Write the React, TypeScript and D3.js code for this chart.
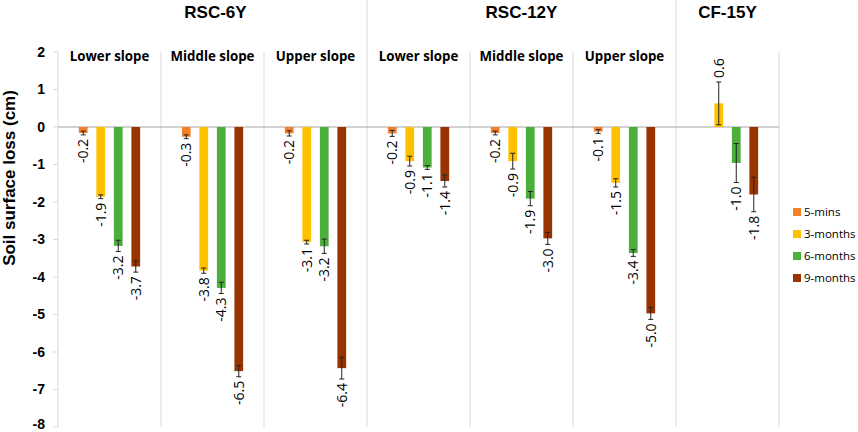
import React from "react";
import * as d3 from "d3";

const panels = ["RSC-6Y Lower", "RSC-6Y Middle", "RSC-6Y Upper", "RSC-12Y Lower", "RSC-12Y Middle", "RSC-12Y Upper", "CF-15Y"];
const panelLabels = ["Lower slope", "Middle slope", "Upper slope", "Lower slope", "Middle slope", "Upper slope", ""];
const groupNames = ["RSC-6Y", "RSC-12Y", "CF-15Y"];
const groupSpans = [[0, 2], [3, 5], [6, 6]];
const seriesNames = ["5-mins", "3-months", "6-months", "9-months"];
const seriesColors = ["#F4812A", "#FFC000", "#4CAF3C", "#993300"];

const fiveMins = [-0.16, -0.26, -0.17, -0.17, -0.16, -0.12, null];
const threeMonths = [-1.86, -3.83, -3.07, -0.91, -0.91, -1.49, 0.63];
const sixMonths = [-3.17, -4.29, -3.18, -1.08, -1.91, -3.36, -0.96];
const nineMonths = [-3.72, -6.51, -6.43, -1.44, -2.97, -4.97, -1.8];

const fiveMinsErr = [0.05, 0.05, 0.07, 0.08, 0.05, 0.05, null];
const threeMonthsErr = [0.05, 0.07, 0.05, 0.13, 0.21, 0.11, 0.57];
const sixMonthsErr = [0.15, 0.15, 0.19, 0.05, 0.19, 0.09, 0.52];
const nineMonthsErr = [0.15, 0.15, 0.29, 0.16, 0.16, 0.16, 0.46];

const yTicks = [2, 1, 0, -1, -2, -3, -4, -5, -6, -7, -8];

const seriesValues = [fiveMins, threeMonths, sixMonths, nineMonths];
const seriesErrs = [fiveMinsErr, threeMonthsErr, sixMonthsErr, nineMonthsErr];

const W = 858;
const H = 432;
const left = 58;
const right = 779;
const top = 52;
const bottom = 427;

export default function App() {
  const y = d3.scaleLinear().domain([-8, 2]).range([bottom, top]);
  const x = d3.scaleBand<number>().domain(d3.range(panels.length)).range([left, right]).padding(0);
  const xs = d3
    .scaleBand<number>()
    .domain(d3.range(seriesNames.length))
    .range([0, x.bandwidth()])
    .paddingInner(0.5)
    .paddingOuter(1.19);

  const grid = "#D9D9D9";
  const labelFont = "'Open Sans', 'Liberation Sans', sans-serif";

  return (
    <svg
      width={W}
      height={H}
      style={{ position: "absolute", left: 0, top: 0, display: "block", background: "#fff" }}
      fontFamily={labelFont}
    >
      {/* vertical separators */}
      <line x1={left} x2={left} y1={top} y2={bottom} stroke={grid} strokeWidth={1} />
      {d3.range(1, panels.length + 1).map((i) => {
        const xx = (x(i - 1) as number) + x.bandwidth();
        const isGroupEdge = i === 3 || i === 6;
        return (
          <line
            key={"sep" + i}
            x1={xx}
            x2={xx}
            y1={isGroupEdge ? 0 : top}
            y2={bottom}
            stroke={grid}
            strokeWidth={1}
          />
        );
      })}
      {/* y ticks */}
      {yTicks.map((t) => (
        <g key={"yt" + t}>
          <line x1={left - 5} x2={left} y1={y(t)} y2={y(t)} stroke={grid} />
          <text
            x={45}
            y={Math.min(y(t), 424)}
            dy="0.35em"
            textAnchor="end"
            fontFamily="'Liberation Sans', Arial, sans-serif"
            fontWeight="bold"
            fontSize={14}
            fill="#000"
          >
            {t}
          </text>
        </g>
      ))}
      {/* zero line */}
      <line x1={left} x2={right} y1={y(0)} y2={y(0)} stroke="#A6A6A6" strokeWidth={1.2} />
      {/* y axis title */}
      <text
        transform={`translate(15,178) rotate(-90)`}
        textAnchor="middle"
        fontFamily="'Liberation Sans', Arial, sans-serif"
        fontWeight="bold"
        fontSize={17}
        fill="#000"
      >
        Soil surface loss (cm)
      </text>
      {/* group titles */}
      {groupNames.map((g, gi) => {
        const [a, b] = groupSpans[gi];
        const cx = ((x(a) as number) + (x(b) as number) + x.bandwidth()) / 2 + (gi === 0 ? 3 : 0);
        return (
          <text
            key={"g" + g}
            x={cx}
            y={18}
            textAnchor="middle"
            fontFamily="'Liberation Sans', Arial, sans-serif"
            fontWeight="bold"
            fontSize={17}
            fill="#000"
          >
            {g}
          </text>
        );
      })}
      {/* panel titles */}
      {panelLabels.map((p, i) =>
        p ? (
          <text
            key={"p" + i}
            x={(x(i) as number) + x.bandwidth() / 2}
            y={61}
            textAnchor="middle"
            fontWeight="bold"
            fontSize={13.3}
            fill="#000"
          >
            {p}
          </text>
        ) : null
      )}
      {/* bars */}
      {seriesValues.map((vals, si) =>
        vals.map((v, i) => {
          if (v === null || v === undefined) return null;
          const e = seriesErrs[si][i] ?? 0;
          const bx = (x(i) as number) + (xs(si) as number);
          const bw = xs.bandwidth();
          const cx = bx + bw / 2;
          const y0 = y(0);
          const yv = y(v);
          const yA = y(v + e);
          const yB = y(v - e);
          const neg = v < 0;
          const labelY = neg ? y(v - e) + 4 : y(v + e) - 4;
          return (
            <g key={`b${si}-${i}`}>
              <rect
                x={bx}
                y={Math.min(y0, yv)}
                width={bw}
                height={Math.abs(yv - y0)}
                fill={seriesColors[si]}
              />
              <line x1={cx} x2={cx} y1={yA} y2={yB} stroke="#222" strokeWidth={1} />
              <line x1={cx - 2.5} x2={cx + 2.5} y1={yA} y2={yA} stroke="#222" strokeWidth={1} />
              <line x1={cx - 2.5} x2={cx + 2.5} y1={yB} y2={yB} stroke="#222" strokeWidth={1} />
              <text
                transform={`translate(${cx},${labelY}) rotate(-90)`}
                dy="0.35em"
                textAnchor={neg ? "end" : "start"}
                fontSize={14}
                fill="#000"
              >
                {v.toFixed(1)}
              </text>
            </g>
          );
        })
      )}
      {/* legend */}
      {seriesNames.map((s, si) => (
        <g key={"l" + s} transform={`translate(793,${212 + si * 22})`}>
          <rect x={0} y={-4} width={8} height={8} fill={seriesColors[si]} />
          <text x={11} y={0} dy="0.35em" fontSize={11.5} fill="#000">
            {s}
          </text>
        </g>
      ))}
    </svg>
  );
}
